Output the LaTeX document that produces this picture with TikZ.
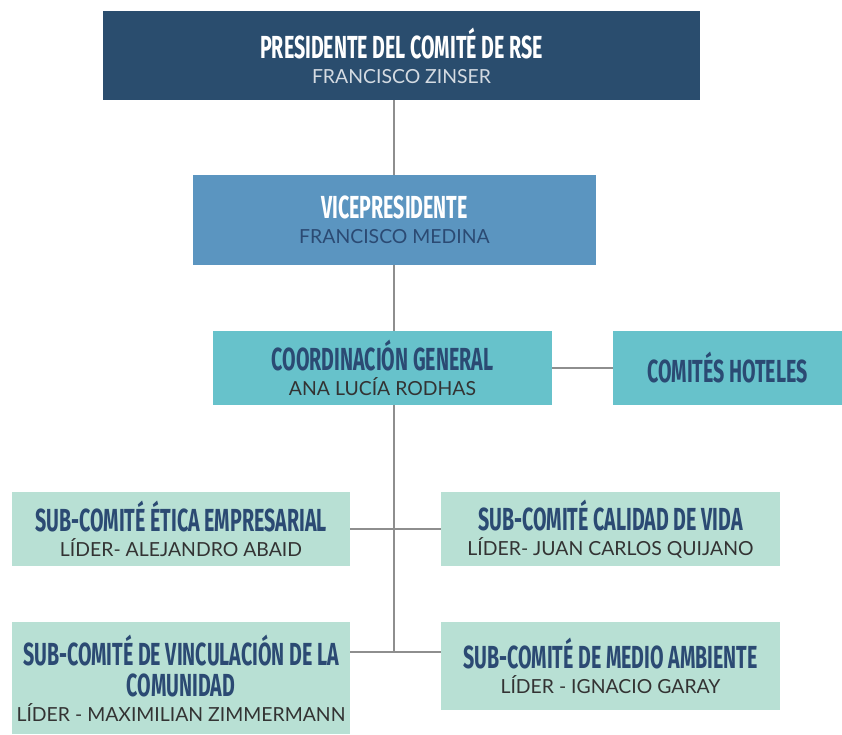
\documentclass[tikz,border=0pt]{standalone}
\usepackage{fontspec}
\setmainfont{Lato}
\newfontfamily\headfont[FakeStretch=0.615]{Fira Sans}
\newcommand{\ttl}{\headfont\bfseries\fontsize{22.7}{24}\selectfont}
\newcommand{\nm}{\fontsize{13.8}{17.8}\selectfont}
\definecolor{presblue}{HTML}{2A4D6E}
\definecolor{viceblue}{HTML}{5B95C0}
\definecolor{coordteal}{HTML}{67C2CB}
\definecolor{submint}{HTML}{B8E0D4}
\definecolor{titlenavy}{HTML}{2B4A73}
\definecolor{namegray}{HTML}{333333}
\definecolor{linegray}{HTML}{8E8E8E}
\begin{document}
\begin{tikzpicture}[
  box/.style={rectangle, inner sep=0pt, align=center, font=\nm},
  link/.style={draw=linegray, line width=1.9pt}
]
\useasboundingbox (0, 0) rectangle (21.05, 18.35);
\coordinate (spine) at (9.85, 2.05);
\node [box, fill=presblue, text=white, minimum width=14.925cm, minimum height=2.225cm] (pres) at (10.0375, 16.9625)
  {{\ttl PRESIDENTE DEL COMITÉ DE RSE}\\\color{white!80!presblue}FRANCISCO ZINSER};
\node [box, fill=viceblue, text=white, minimum width=10.075cm, minimum height=2.25cm] (vice) at (9.8625, 12.85)
  {{\ttl VICEPRESIDENTE}\\\color{titlenavy}FRANCISCO MEDINA};
\node [box, fill=coordteal, text=namegray, minimum width=8.475cm, minimum height=1.85cm] (coord) at (9.5625, 9.15)
  {{\ttl\color{titlenavy}COORDINACIÓN GENERAL}\\ANA LUCÍA RODHAS};
\node [box, fill=coordteal, text=titlenavy, minimum width=5.725cm, minimum height=1.85cm] (hotel) at (18.1875, 9.15)
  {\ttl COMITÉS HOTELES};
\node [box, fill=submint, text=namegray, minimum width=8.45cm, minimum height=1.85cm] (etica) at (4.525, 5.125)
  {{\ttl\color{titlenavy}SUB-COMITÉ ÉTICA EMPRESARIAL}\\LÍDER- ALEJANDRO ABAID};
\node [box, fill=submint, text=namegray, minimum width=8.475cm, minimum height=1.85cm] (vida) at (15.2625, 5.125)
  {{\ttl\color{titlenavy}SUB-COMITÉ CALIDAD DE VIDA}\\LÍDER- JUAN CARLOS QUIJANO};
\node [box, fill=submint, text=namegray, minimum width=8.45cm, minimum height=2.8cm] (comunidad) at (4.525, 1.4)
  {{\ttl\color{titlenavy}SUB-COMITÉ DE VINCULACIÓN DE LA}\\[4.2pt]{\ttl\color{titlenavy}COMUNIDAD}\\LÍDER - MAXIMILIAN ZIMMERMANN};
\node [box, fill=submint, text=namegray, minimum width=8.475cm, minimum height=2.2cm] (ambiente) at (15.2625, 1.7)
  {{\ttl\color{titlenavy}SUB-COMITÉ DE MEDIO AMBIENTE}\\LÍDER - IGNACIO GARAY};
\draw [link] (pres.south -| spine) -- (vice.north -| spine);
\draw [link] (vice.south -| spine) -- (coord.north -| spine);
\draw [link] (coord.south -| spine) -- (spine);
\draw [link] (coord.east) -- (hotel.west);
\draw [link] (etica.east) -- (vida.west);
\draw [link] (comunidad.east |- spine) -- (ambiente.west |- spine);
\end{tikzpicture}
\end{document}
